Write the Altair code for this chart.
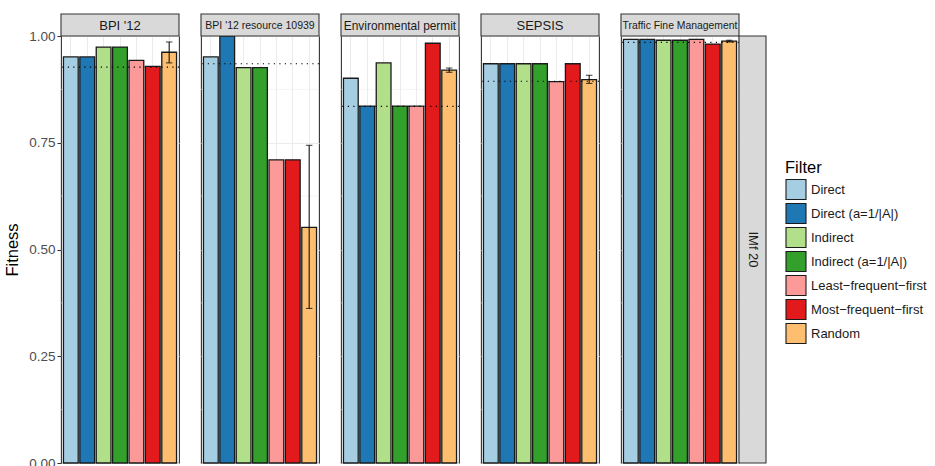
import altair as alt
import pandas as pd

# Event logs (one panel each) and filtering strategies (one bar each)
datasets = ["BPI '12", "BPI '12 resource 10939", "Environmental permit", "SEPSIS", "Traffic Fine Management"]
filters = ["Direct", "Direct (a=1/|A|)", "Indirect", "Indirect (a=1/|A|)",
           "Least\u2212frequent\u2212first", "Most\u2212frequent\u2212first", "Random"]
palette = ["#A6CEE3", "#1F78B4", "#B2DF8A", "#33A02C", "#FB9A99", "#E31A1C", "#FDBF6F"]
row_label = "IMf 20"

# Fitness per filter, in the order of `filters`
fit_bpi12 = [0.951, 0.951, 0.974, 0.974, 0.943, 0.929, 0.962]
fit_bpi12_res = [0.951, 1.000, 0.926, 0.926, 0.710, 0.710, 0.552]
fit_env = [0.901, 0.836, 0.937, 0.836, 0.836, 0.983, 0.920]
fit_sepsis = [0.935, 0.935, 0.935, 0.935, 0.893, 0.935, 0.898]
fit_traffic = [0.992, 0.992, 0.990, 0.990, 0.992, 0.981, 0.988]
fitness_by_log = [fit_bpi12, fit_bpi12_res, fit_env, fit_sepsis, fit_traffic]

# Spread of the random filter over repeated runs
random_lo = [0.937, 0.362, 0.915, 0.889, 0.986]
random_hi = [0.986, 0.744, 0.925, 0.908, 0.990]

# Fitness without any filtering (dotted reference line)
unfiltered = [0.927, 0.935, 0.835, 0.894, 0.985]

major_ticks = [0.0, 0.25, 0.5, 0.75, 1.0]
minor_ticks = [0.125, 0.375, 0.625, 0.875]

strip_font_sizes = [13, 10.5, 11.9, 13, 10.4]

FONT = "Liberation Sans"
PANEL_W, PANEL_H, STRIP_H, ROW_STRIP_W = 118, 427, 22, 27
GAP = 22
GRID = "#EBEBEB"
EDGE = "#333333"
BAR_EDGE = "#1A1A1A"
STRIP_FILL = "#D9D9D9"
TEXT = "#1A1A1A"

x_scale = alt.Scale(domain=filters, paddingInner=0.1, paddingOuter=0.15)
y_scale = alt.Scale(domain=[0, 1], nice=False, zero=True)
x_axis = alt.Axis(labels=False, ticks=False, domain=False, title=None, grid=True,
                  gridColor=GRID, gridWidth=1, bandPosition=0.5)

legend = alt.Legend(
    title="Filter", orient="none", legendX=724, legendY=124,
    symbolType="square", symbolSize=400, symbolStrokeColor=BAR_EDGE,
    symbolStrokeWidth=1.1, symbolOpacity=1, labelFontSize=13, labelFont=FONT,
    labelColor=TEXT, titleFontSize=16.5, titleFont=FONT,
    titleFontWeight="normal", titleColor="black", rowPadding=-5,
    labelOffset=4, titlePadding=2,
)


def y_axis(first):
    if first:
        return alt.Axis(values=major_ticks, format=".2f", title="Fitness",
                        labelFontSize=13.5, labelFont=FONT, labelColor="#4D4D4D",
                        labelPadding=2, tickColor=EDGE, tickSize=4, tickWidth=1,
                        domain=False, grid=True, gridColor=GRID, gridWidth=1,
                        titleFontSize=16.5, titleFont=FONT, titleFontWeight="normal",
                        titleColor="black", titlePadding=8)
    return alt.Axis(values=major_ticks, labels=False, ticks=False, domain=False,
                    title=None, grid=True, gridColor=GRID, gridWidth=1)


def strip_layers(text, font_size):
    """Grey header box with the log name, sitting just above the panel."""
    src = alt.Chart(pd.DataFrame({"label": [text]}))
    box = src.mark_rect(fill=STRIP_FILL, stroke=EDGE, strokeWidth=1.1).encode(
        x=alt.value(0), x2=alt.value(PANEL_W),
        y=alt.value(-STRIP_H), y2=alt.value(0))
    label = src.mark_text(font=FONT, fontSize=font_size, color=TEXT,
                          baseline="middle", align="center").encode(
        x=alt.value(PANEL_W / 2), y=alt.value(-STRIP_H / 2 + 0.5), text="label:N")
    return [box, label]


def row_strip_layers():
    """Vertical grey box on the right holding the row (miner) label."""
    src = alt.Chart(pd.DataFrame({"label": [row_label]}))
    box = src.mark_rect(fill=STRIP_FILL, stroke=EDGE, strokeWidth=1.1).encode(
        x=alt.value(PANEL_W), x2=alt.value(PANEL_W + ROW_STRIP_W),
        y=alt.value(0), y2=alt.value(PANEL_H))
    label = src.mark_text(font=FONT, fontSize=13, color=TEXT, angle=90,
                          baseline="middle", align="center").encode(
        x=alt.value(PANEL_W + ROW_STRIP_W / 2), y=alt.value(PANEL_H / 2), text="label:N")
    return [box, label]


def panel(i):
    first = i == 0
    X = alt.X("filter:N", scale=x_scale, axis=x_axis, sort=filters)
    Y = alt.Y("fitness:Q", scale=y_scale, axis=y_axis(first))

    minor = alt.Chart(pd.DataFrame({"fitness": minor_ticks})).mark_rule(
        color=GRID, strokeWidth=0.6).encode(y=Y)

    bars = alt.Chart(pd.DataFrame({"filter": filters, "fitness": fitness_by_log[i]})).mark_bar(
        stroke=BAR_EDGE, strokeWidth=1.3, opacity=1).encode(
        x=X, y=Y,
        color=alt.Color("filter:N", scale=alt.Scale(domain=filters, range=palette),
                        sort=filters, legend=legend))

    ref = alt.Chart(pd.DataFrame({"fitness": [unfiltered[i]]})).mark_rule(
        color="black", strokeWidth=1.2, strokeDash=[1.2, 4.3]).encode(y=Y)

    err_df = pd.DataFrame({"filter": ["Random"], "fitness": [random_lo[i]], "hi": [random_hi[i]]})
    err = alt.Chart(err_df).mark_rule(color="black", strokeWidth=1).encode(
        x=X, y=Y, y2=alt.Y2("hi:Q"))
    cap_lo = alt.Chart(err_df).mark_tick(color="black", size=6.5, thickness=1.1).encode(x=X, y=Y)
    cap_hi = alt.Chart(err_df).mark_tick(color="black", size=6.5, thickness=1.1).encode(
        x=X, y=alt.Y("hi:Q", scale=y_scale, axis=y_axis(first)))

    layers = [minor, bars, ref, err, cap_lo, cap_hi] + strip_layers(datasets[i], strip_font_sizes[i])
    if i == len(datasets) - 1:
        layers += row_strip_layers()
    return alt.layer(*layers).properties(width=PANEL_W, height=PANEL_H)


chart = alt.hconcat(*[panel(i) for i in range(len(datasets))],
                    spacing=GAP, bounds="flush").properties(
    padding={"left": 4, "top": 12, "right": 0, "bottom": 0},
    background="white",
).configure(font=FONT).configure_view(stroke=EDGE, strokeWidth=1.1)

chart.save("out.html", embed_options={"renderer": "svg", "actions": False})
